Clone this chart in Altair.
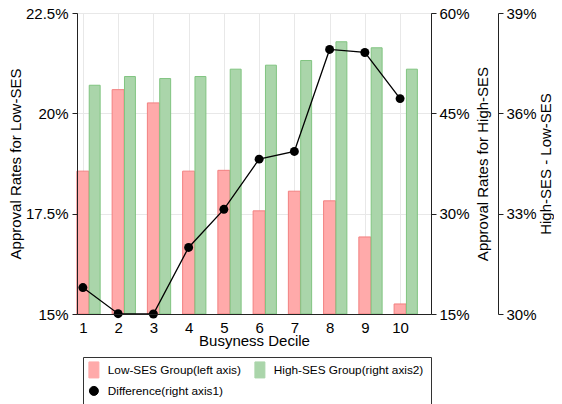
import altair as alt
import pandas as pd

deciles = [1, 2, 3, 4, 5, 6, 7, 8, 9, 10]
low_ses = [18.56, 20.59, 20.26, 18.56, 18.58, 17.57, 18.06, 17.82, 16.92, 15.25]
high_ses = [49.2, 50.5, 50.2, 50.5, 51.6, 52.2, 52.9, 55.7, 54.8, 51.6]
difference = [30.79, 30.01, 30.0, 31.99, 33.13, 34.63, 34.86, 37.91, 37.82, 36.44]
series_names = ["Low-SES Group(left axis)", "High-SES Group(right axis2)", "Difference(right axis1)"]
left_ticks = [15, 17.5, 20, 22.5]
right1_ticks = [15, 30, 45, 60]
right2_ticks = [30, 33, 36, 39]

low_df = pd.DataFrame({"decile": deciles, "value": low_ses, "series": series_names[0]})
high_df = pd.DataFrame({"decile": deciles, "value": high_ses, "series": series_names[1]})
diff_df = pd.DataFrame({"decile": deciles, "value": difference, "series": series_names[2]})

FONT = "Liberation Sans"
RED_FILL, RED_STROKE = "#FFAAAA", "#F28080"
GREEN_FILL, GREEN_STROKE = "#AAD5AA", "#80C480"
AX = "#222222"

x_scale = alt.Scale(domain=[0.833, 10.877], nice=False, zero=False)
yl_scale = alt.Scale(domain=[15, 22.5], nice=False, zero=False)
yr1_scale = alt.Scale(domain=[15, 60], nice=False, zero=False)
yr2_scale = alt.Scale(domain=[30, 39], nice=False, zero=False)

color_scale = alt.Scale(domain=series_names, range=[RED_FILL, GREEN_FILL, "#000000"])

rect_path = "M-1,-1.6H1V1.6H-1Z"
circ_path = "M-0.9,0A0.9,0.9,0,1,0,0.9,0A0.9,0.9,0,1,0,-0.9,0Z"
d = series_names[2]
l = series_names[0]
legend = alt.Legend(
    orient="none", legendX=6, legendY=344, columns=2, direction="horizontal", padding=7,
    strokeColor="#333333", symbolSize=100, symbolOffset=-2, labelOffset=8,
    rowPadding=4, columnPadding=11, labelFont=FONT, labelFontSize=11.8,
    labelColor="black", labelLimit=300, symbolOpacity=1, symbolStrokeWidth=1,
    symbolType={"expr": f"datum.value == '{d}' ? '{circ_path}' : '{rect_path}'"},
    symbolStrokeColor={"expr": f"datum.value == '{d}' ? 'black' : (datum.value == '{l}' ? '{RED_STROKE}' : '{GREEN_STROKE}')"},
)
color_enc = alt.Color("series:N", scale=color_scale, legend=legend, title=None)

# grid layer (behind everything)
grid = alt.Chart(low_df).mark_point(opacity=0).encode(
    x=alt.X("decile:Q", scale=x_scale, axis=alt.Axis(
        orient="bottom", grid=True, domain=False, ticks=False, labels=False,
        values=deciles, gridColor="#e8e8e8", zindex=0), title=None),
    y=alt.Y("value:Q", scale=yl_scale, axis=alt.Axis(
        orient="left", grid=True, domain=False, ticks=False, labels=False,
        values=left_ticks, gridColor="#e8e8e8", zindex=0), title=None),
)

low = alt.Chart(low_df).transform_calculate(
    x0="datum.decile - 0.17", x1="datum.decile + 0.17"
).mark_bar(opacity=1, stroke=RED_STROKE, strokeWidth=1).encode(
    x=alt.X("x0:Q", scale=x_scale, title="Busyness Decile", axis=alt.Axis(
        orient="bottom", values=deciles, format="d", ticks=False, tickSize=0,
        labelPadding=6, domainColor=AX, grid=False, titlePadding=-2, zindex=1)),
    x2="x1:Q",
    y=alt.Y("value:Q", scale=yl_scale, title="Approval Rates for Low-SES", axis=alt.Axis(
        orient="left", values=left_ticks, labelExpr="datum.value + '%'", grid=False,
        tickSize=5, labelPadding=4, titlePadding=2, domainColor=AX, tickColor=AX, zindex=1)),
    y2=alt.datum(15),
    color=color_enc,
)

high = alt.Chart(high_df).transform_calculate(
    x0="datum.decile + 0.18", x1="datum.decile + 0.49"
).mark_bar(opacity=1, stroke=GREEN_STROKE, strokeWidth=1).encode(
    x=alt.X("x0:Q", scale=x_scale, axis=None),
    x2="x1:Q",
    y=alt.Y("value:Q", scale=yr1_scale, title="Approval Rates for High-SES", axis=alt.Axis(
        orient="right", values=right1_ticks, labelExpr="datum.value + '%'", grid=False,
        tickSize=5, labelPadding=3, titlePadding=6, titleAngle=270, titleBaseline="top",
        domainColor=AX, tickColor=AX, zindex=1)),
    y2=alt.datum(15),
    color=color_enc,
)

diff_line = alt.Chart(diff_df).mark_line(strokeWidth=1.3).encode(
    x=alt.X("decile:Q", scale=x_scale, axis=None),
    y=alt.Y("value:Q", scale=yr2_scale, title="High-SES - Low-SES", axis=alt.Axis(
        orient="right", offset=67, values=right2_ticks, labelExpr="datum.value + '%'", grid=False,
        tickSize=5, labelPadding=3, titlePadding=2, titleAngle=270, titleBaseline="top",
        domainColor=AX, tickColor=AX, zindex=1)),
    color=color_enc,
)

diff_pts = alt.Chart(diff_df).mark_point(filled=True, opacity=1, size=80).encode(
    x=alt.X("decile:Q", scale=x_scale, axis=None),
    y=alt.Y("value:Q", scale=yr2_scale, axis=None),
    color=color_enc,
)

chart = alt.layer(grid, low, high, diff_line, diff_pts).resolve_scale(
    x="independent", y="independent"
).properties(
    width=354, height=301,
    autosize=alt.AutoSizeParams(type="none"),
    padding={"left": 69, "top": 5, "right": 123, "bottom": 90},
).configure_view(
    stroke="#999999", strokeWidth=1
).configure_axis(
    labelFont=FONT, titleFont=FONT, labelFontSize=15, titleFontSize=15,
    titleFontWeight="normal", labelColor="black", titleColor="black",
).configure_legend(
    labelFont=FONT, symbolSize=100,
)

chart.save("out.html", embed_options={"renderer": "svg", "actions": False})
